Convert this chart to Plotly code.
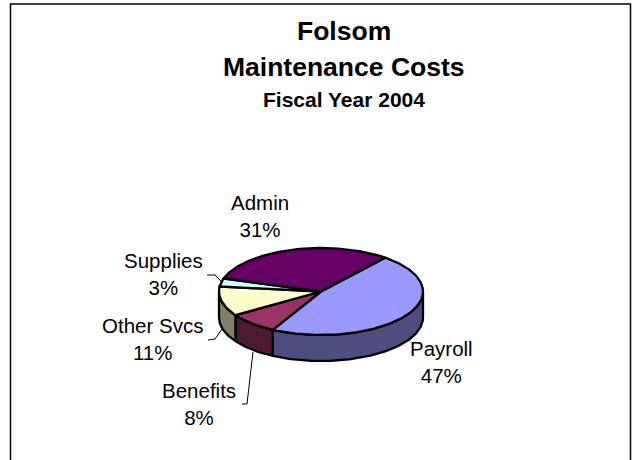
import numpy as np
import plotly.graph_objects as go

# Dados
categories = ['Payroll', 'Benefits', 'Other Svcs', 'Supplies', 'Admin']
shares = [47, 8, 11, 3, 31]
top_colors = ['#9999FF', '#993366', '#FFFFCC', '#CCFFFF', '#660066']
side_colors = ['#4D4D80', '#4D1A33', '#808066', '#668080', '#330033']

W, H = 632, 460
CX, CY, RX, RY, DEPTH = 321, 291.5, 102, 43.5, 26
START = 39  # graus, sentido horário a partir do topo


def px(x):
    return x / W


def py(y):
    return 1 - y / H


fig = go.Figure()


def ring(a0, a1):
    t = np.radians(np.linspace(a0, a1, max(int(abs(a1 - a0)), 2) + 1))
    return np.sin(t), np.cos(t)


# fatias: ângulos acumulados a partir dos valores
edges = START + np.cumsum([0] + shares) * 3.6
d = DEPTH / RY

# parede lateral (só a parte da frente, entre 90 e 270 graus)
for i, name in enumerate(categories):
    a0, a1 = max(edges[i], 90), min(edges[i + 1], 270)
    if a1 <= a0:
        continue
    sx, sy = ring(a0, a1)
    fig.add_trace(go.Scatter(
        x=np.r_[sx, sx[::-1], sx[0]], y=np.r_[sy, sy[::-1] - d, sy[0]],
        mode='lines', fill='toself', fillcolor=side_colors[i],
        line=dict(color='black', width=2.3), hoverinfo='skip'))

# tampo
for i, name in enumerate(categories):
    sx, sy = ring(edges[i], edges[i + 1])
    fig.add_trace(go.Scatter(
        x=np.r_[0, sx, 0], y=np.r_[0, sy, 0],
        mode='lines', fill='toself', fillcolor=top_colors[i],
        line=dict(color='black', width=2.3), name=name,
        hovertemplate=name + ' %{text}%<extra></extra>', text=[shares[i]] * (len(sx) + 2)))

# rótulos (centro em pixels da imagem)
label_pos = {
    'Payroll': (442, 362), 'Benefits': (199, 404), 'Other Svcs': (152, 339),
    'Supplies': (163, 274), 'Admin': (260, 216),
}
annotations = []
for name, share in zip(categories, shares):
    x, y = label_pos[name]
    annotations.append(dict(
        x=px(x), y=py(y), xref='paper', yref='paper', showarrow=False,
        xanchor='center', yanchor='middle',
        text=f'{name}<br>{share}%', align='center',
        font=dict(family='Liberation Sans', size=20.5, color='black')))

for text, y, size in [('Folsom', 31, 26.5), ('Maintenance Costs', 67, 26.5), ('Fiscal Year 2004', 100, 21)]:
    annotations.append(dict(
        x=px(344), y=py(y), xref='paper', yref='paper', showarrow=False, text=f'<b>{text}</b>',
        xanchor='center', yanchor='middle',
        font=dict(family='Liberation Sans', size=size, color='black')))

# linhas de chamada e moldura
shapes = []
leaders = [
    [(207, 275), (215, 275), (223, 283)],
    [(208, 340), (215, 339), (222, 329)],
    [(242, 404), (247, 404), (253, 352)],
]
for pts in leaders:
    path = 'M ' + ' L '.join(f'{px(a)} {py(b)}' for a, b in pts)
    shapes.append(dict(type='path', path=path, xref='paper', yref='paper',
                       line=dict(color='black', width=1)))
shapes.append(dict(type='rect', xref='paper', yref='paper', x0=px(10.5), y0=py(4), x1=px(630.5), y1=py(470),
                   line=dict(color='black', width=1.5)))

fig.update_layout(
    width=W, height=H, margin=dict(l=0, r=0, t=0, b=0), showlegend=False,
    paper_bgcolor='white', plot_bgcolor='white',
    xaxis=dict(range=[-CX / RX, (W - CX) / RX], visible=False),
    yaxis=dict(range=[-(H - CY) / RY, CY / RY], visible=False),
    annotations=annotations, shapes=shapes,
)

fig.write_html('out.html', config=dict(displayModeBar=False),
               post_script="document.body.style.margin='0';document.body.style.overflow='hidden';")
